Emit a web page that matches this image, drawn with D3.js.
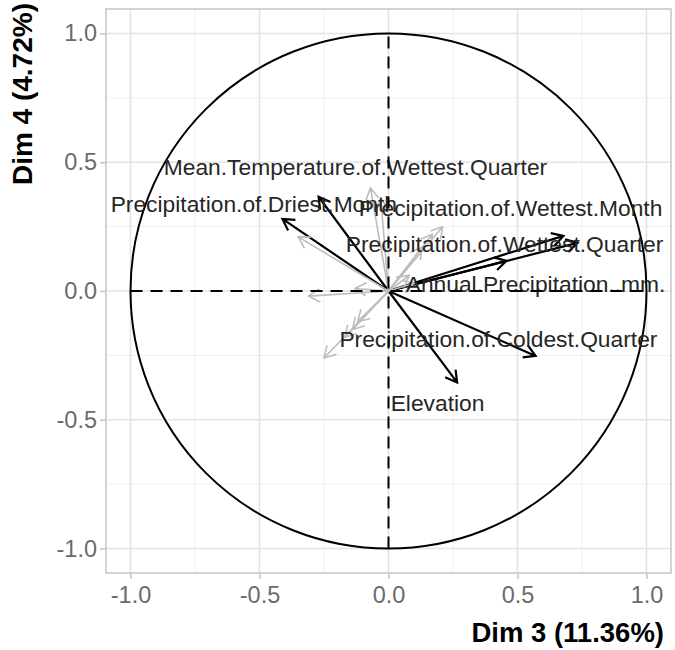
<!DOCTYPE html>
<html>
<head>
<meta charset="utf-8">
<script src="https://cdn.jsdelivr.net/npm/d3@7"></script>
<style>
  html, body { margin: 0; padding: 0; background: #fff; }
  svg { display: block; font-family: "Liberation Sans", Arial, Helvetica, sans-serif; }
</style>
</head>
<body>
<svg id="chart" width="675" height="650"></svg>
<script>
// ---- data ----
const activeNames = [
  "Mean.Temperature.of.Wettest.Quarter",
  "Precipitation.of.Driest.Month",
  "Precipitation.of.Wettest.Month",
  "Precipitation.of.Wettest.Quarter",
  "Annual.Precipitation..mm.",
  "Precipitation.of.Coldest.Quarter",
  "Elevation"
];
const activeX = [-0.271, -0.411, 0.678, 0.733, 0.457, 0.570, 0.266];
const activeY = [0.366, 0.280, 0.214, 0.187, 0.117, -0.252, -0.355];
// label positions (repelled), data units
const labelX = [-0.128, -0.522, 0.473, 0.450, 0.570, 0.426, 0.190];
const labelY = [0.482, 0.339, 0.323, 0.183, 0.027, -0.187, -0.436];

// supplementary variables (grey)
const suppX = [-0.07, -0.03, 0.21, 0.17, 0.13, -0.35, -0.31, -0.13, -0.25, -0.14, -0.12, -0.17, 0.08, 0.10];
const suppY = [0.40, 0.36, 0.25, 0.22, 0.17, 0.21, -0.02, 0.01, -0.26, -0.15, -0.12, -0.18, 0.06, 0.03];

const xTicks = [-1.0, -0.5, 0.0, 0.5, 1.0];
const yTicks = [-1.0, -0.5, 0.0, 0.5, 1.0];
const minorTicks = [-0.75, -0.25, 0.25, 0.75];
const xTitle = "Dim 3 (11.36%)";
const yTitle = "Dim 4 (4.72%)";

// ---- layout ----
const svg = d3.select("#chart");
const lim = 1.095;
const px0 = 106, px1 = 671, py0 = 9, py1 = 573;
const x = d3.scaleLinear().domain([-lim, lim]).range([px0, px1]);
const y = d3.scaleLinear().domain([-lim, lim]).range([py1, py0]);

const g = svg.append("g");

// minor grid
g.selectAll(".vminor").data(minorTicks).join("line")
  .attr("x1", d => x(d)).attr("x2", d => x(d)).attr("y1", py0).attr("y2", py1)
  .attr("stroke", "#f0f0f0").attr("stroke-width", 1);
g.selectAll(".hminor").data(minorTicks).join("line")
  .attr("y1", d => y(d)).attr("y2", d => y(d)).attr("x1", px0).attr("x2", px1)
  .attr("stroke", "#f0f0f0").attr("stroke-width", 1);
// major grid
g.selectAll(".vmajor").data(xTicks).join("line")
  .attr("x1", d => x(d)).attr("x2", d => x(d)).attr("y1", py0).attr("y2", py1)
  .attr("stroke", "#e4e4e4").attr("stroke-width", 1.6);
g.selectAll(".hmajor").data(yTicks).join("line")
  .attr("y1", d => y(d)).attr("y2", d => y(d)).attr("x1", px0).attr("x2", px1)
  .attr("stroke", "#e4e4e4").attr("stroke-width", 1.6);

// axes
const fmt = d => d3.format(".1f")(d).replace("−", "-");
const xAxis = d3.axisBottom(x).tickValues(xTicks).tickFormat(fmt).tickSize(6).tickPadding(7);
const yAxis = d3.axisLeft(y).tickValues(yTicks).tickFormat(fmt).tickSize(6).tickPadding(3);
const gx = svg.append("g").attr("transform", `translate(0,${py1})`).call(xAxis);
const gy = svg.append("g").attr("transform", `translate(${px0},0)`).call(yAxis);
[gx, gy].forEach(a => {
  a.select(".domain").remove();
  a.selectAll(".tick line").attr("stroke", "#c8c8c8").attr("stroke-width", 1.6);
  a.selectAll(".tick text").attr("fill", "#6b6b6b").style("font-size", "23.5px")
    .style("font-family", "'Liberation Sans', Arial, sans-serif");
});

// panel border
svg.append("rect").attr("x", px0).attr("y", py0).attr("width", px1 - px0).attr("height", py1 - py0)
  .attr("fill", "none").attr("stroke", "#c8c8c8").attr("stroke-width", 1.6);

// circle
svg.append("ellipse").attr("cx", x(0)).attr("cy", y(0))
  .attr("rx", x(1) - x(0)).attr("ry", y(0) - y(1))
  .attr("fill", "none").attr("stroke", "#000").attr("stroke-width", 2);

// arrow helper
function arrowPath(vx, vy) {
  const x0 = x(0), y0 = y(0), x1 = x(vx), y1 = y(vy);
  const ang = Math.atan2(y1 - y0, x1 - x0);
  const L = 13, a = Math.PI / 6;
  const bx1 = x1 - L * Math.cos(ang - a), by1 = y1 - L * Math.sin(ang - a);
  const bx2 = x1 - L * Math.cos(ang + a), by2 = y1 - L * Math.sin(ang + a);
  return `M${x0},${y0}L${x1},${y1}M${bx1},${by1}L${x1},${y1}L${bx2},${by2}`;
}

// active arrows
svg.append("g").selectAll("path").data(activeX.map((d, i) => i)).join("path")
  .attr("d", i => arrowPath(activeX[i], activeY[i]))
  .attr("fill", "none").attr("stroke", "#000").attr("stroke-width", 2.2)
  .attr("stroke-linejoin", "miter");

// supplementary arrows
svg.append("g").selectAll("path").data(suppX.map((d, i) => i)).join("path")
  .attr("d", i => arrowPath(suppX[i], suppY[i]))
  .attr("fill", "none").attr("stroke", "#bdbdbd").attr("stroke-width", 1.6);

// labels
svg.append("g").selectAll("text").data(activeNames.map((d, i) => i)).join("text")
  .attr("x", i => x(labelX[i])).attr("y", i => y(labelY[i]))
  .attr("text-anchor", "middle").attr("dominant-baseline", "central")
  .attr("fill", "#262626").style("font-size", "22.8px")
  .text(i => activeNames[i]);

// dashed axis lines
svg.append("line").attr("x1", x(-1)).attr("x2", x(1)).attr("y1", y(0)).attr("y2", y(0))
  .attr("stroke", "#000").attr("stroke-width", 2).attr("stroke-dasharray", "12,8");
svg.append("line").attr("x1", x(0)).attr("x2", x(0)).attr("y1", y(-1)).attr("y2", y(1))
  .attr("stroke", "#000").attr("stroke-width", 2).attr("stroke-dasharray", "12,8");

// axis titles
svg.append("text").attr("x", px1 - 7).attr("y", 642).attr("text-anchor", "end")
  .style("font-size", "27.5px").style("font-weight", "bold").attr("fill", "#000").text(xTitle);
svg.append("text").attr("transform", `translate(32,${py0 - 6}) rotate(-90)`).attr("text-anchor", "end")
  .style("font-size", "28px").style("font-weight", "bold").attr("fill", "#000").text(yTitle);
</script>
</body>
</html>
